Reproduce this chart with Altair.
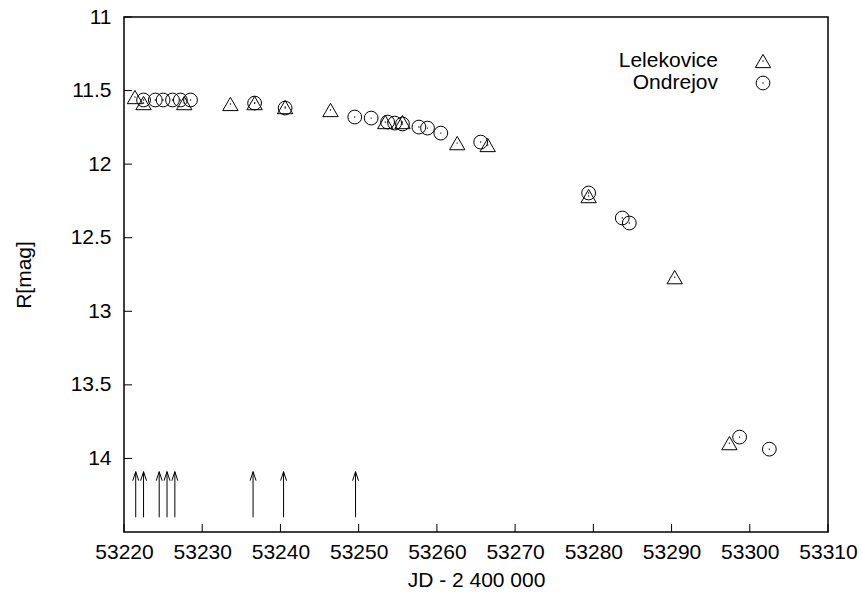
import altair as alt
import pandas as pd

# Lelekovice (triangles)
lel_jd = [53221.4, 53222.5, 53227.7, 53233.6, 53236.7, 53240.6, 53246.4,
          53253.4, 53255.6, 53262.6, 53266.5, 53279.4, 53290.4, 53297.4]
lel_mag = [11.544, 11.585, 11.585, 11.591, 11.585, 11.612, 11.632,
           11.714, 11.714, 11.857, 11.870, 12.217, 12.768, 13.896]

# Ondrejov (circles)
ond_jd = [53222.5, 53224.0, 53225.0, 53226.2, 53227.2, 53228.5, 53236.7,
          53240.6, 53249.5, 53251.6, 53253.7, 53254.6, 53255.6, 53257.7,
          53258.8, 53260.5, 53265.6, 53279.4, 53283.7, 53284.6, 53298.7,
          53302.5]
ond_mag = [11.564, 11.564, 11.564, 11.564, 11.564, 11.564, 11.585,
           11.619, 11.680, 11.687, 11.714, 11.721, 11.727, 11.748,
           11.755, 11.789, 11.850, 12.196, 12.366, 12.400, 13.855,
           13.937]

# arrows (epochs marked at the bottom)
arrow_jd = [53221.5, 53222.5, 53224.5, 53225.5, 53226.5, 53236.5, 53240.4, 53249.6]
arrow_base = 14.4
arrow_tip = 14.09

x_ticks = [53220, 53230, 53240, 53250, 53260, 53270, 53280, 53290, 53300, 53310]
y_ticks = [11, 11.5, 12, 12.5, 13, 13.5, 14]

X_DOM = [53220, 53310]
Y_DOM = [11, 14.5]
W, H = 704, 515
FONT = "Liberation Sans"
FS = 21

lel = pd.DataFrame({"jd": lel_jd, "mag": lel_mag})
ond = pd.DataFrame({"jd": ond_jd, "mag": ond_mag})
arr = pd.DataFrame({"jd": arrow_jd, "base": [arrow_base] * len(arrow_jd),
                    "tip": [arrow_tip] * len(arrow_jd)})
xt = pd.DataFrame({"v": x_ticks})
yt = pd.DataFrame({"v": y_ticks})

xs = alt.Scale(domain=X_DOM, nice=False, zero=False)
ys = alt.Scale(domain=Y_DOM, reverse=True, nice=False, zero=False)

xax = alt.Axis(values=x_ticks, format="d", ticks=False, grid=False, domain=False,
               labelFontSize=FS, labelFont=FONT, labelColor="black", labelPadding=9,
               title="JD - 2 400 000", titleFont=FONT, titleFontSize=FS,
               titleFontWeight="normal", titleColor="black", titlePadding=7,
               labelFlush=False)
yax = alt.Axis(values=y_ticks, format=".1~f", ticks=False, grid=False, domain=False,
               labelFontSize=FS, labelFont=FONT, labelColor="black", labelPadding=13,
               title="R[mag]", titleFont=FONT, titleFontSize=FS,
               titleFontWeight="normal", titleColor="black", titlePadding=36,
               labelFlush=False)

base_x = alt.X("jd:Q", scale=xs, axis=xax)
base_y = alt.Y("mag:Q", scale=ys, axis=yax)

TRI_SIZE, CIR_SIZE = 235, 190

tri = alt.Chart(lel).mark_point(shape="triangle-up", size=TRI_SIZE, filled=False,
                                color="black", strokeWidth=1, opacity=1).encode(
    x=base_x, y=base_y)
tri_dot = alt.Chart(lel).mark_point(shape="circle", size=2, filled=True,
                                    color="black", opacity=1).encode(
    x="jd:Q", y="mag:Q")
cir = alt.Chart(ond).mark_point(shape="circle", size=CIR_SIZE, filled=False,
                                color="black", strokeWidth=1, opacity=1).encode(
    x="jd:Q", y="mag:Q")
cir_dot = alt.Chart(ond).mark_point(shape="circle", size=2, filled=True,
                                    color="black", opacity=1).encode(
    x="jd:Q", y="mag:Q")

arrow_line = alt.Chart(arr).mark_rule(color="black", strokeWidth=1).encode(
    x="jd:Q", y="base:Q", y2="tip:Q")
arrow_head = alt.Chart(arr).mark_point(shape="M-0.33,1L0,0L0.33,1", size=324,
                                       filled=False, color="black",
                                       strokeWidth=1, opacity=1).encode(
    x="jd:Q", y=alt.Y("tip:Q"))

# inward ticks
xtick_b = alt.Chart(xt).mark_rule(color="black", strokeWidth=1).encode(
    x="v:Q", y=alt.value(H), y2=alt.value(H - 8))
ytick_l = alt.Chart(yt).mark_rule(color="black", strokeWidth=1).encode(
    y="v:Q", x=alt.value(0), x2=alt.value(8))

# legend
LX_T, LX_S, LY1, LY2 = 594, 639, 44, 66
leg_font = dict(font=FONT, fontSize=FS, color="black", align="right", baseline="middle")
leg_t1 = alt.Chart(pd.DataFrame({"t": ["Lelekovice"]})).mark_text(**leg_font).encode(
    text="t:N", x=alt.value(LX_T), y=alt.value(LY1))
leg_t2 = alt.Chart(pd.DataFrame({"t": ["Ondrejov"]})).mark_text(**leg_font).encode(
    text="t:N", x=alt.value(LX_T), y=alt.value(LY2))
leg_s1 = alt.Chart(pd.DataFrame({"t": ["a"]})).mark_point(
    shape="triangle-up", size=TRI_SIZE, filled=False, color="black", strokeWidth=1,
    opacity=1).encode(x=alt.value(LX_S), y=alt.value(LY1))
leg_s2 = alt.Chart(pd.DataFrame({"t": ["a"]})).mark_point(
    shape="circle", size=CIR_SIZE, filled=False, color="black", strokeWidth=1,
    opacity=1).encode(x=alt.value(LX_S), y=alt.value(LY2))
leg_d1 = alt.Chart(pd.DataFrame({"t": ["a"]})).mark_point(
    shape="circle", size=2, filled=True, color="black", opacity=1).encode(
    x=alt.value(LX_S), y=alt.value(LY1))
leg_d2 = alt.Chart(pd.DataFrame({"t": ["a"]})).mark_point(
    shape="circle", size=2, filled=True, color="black", opacity=1).encode(
    x=alt.value(LX_S), y=alt.value(LY2))

chart = alt.layer(
    tri, tri_dot, cir, cir_dot, arrow_line, arrow_head,
    xtick_b, ytick_l,
    leg_t1, leg_t2, leg_s1, leg_s2, leg_d1, leg_d2,
).properties(
    width=W, height=H,
    autosize=alt.AutoSizeParams(type="none"),
    padding={"left": 124, "top": 17, "right": 34, "bottom": 65},
    background="white",
).configure_view(
    stroke="black", strokeWidth=1.5
)

chart.save("out.html", embed_options={"renderer": "svg", "actions": False})
